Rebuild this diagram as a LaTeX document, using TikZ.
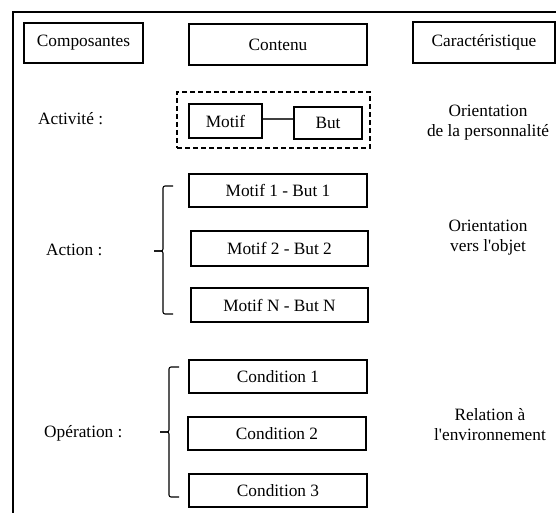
\documentclass[tikz,border=0pt]{standalone}
\usepackage{fontspec}
\setmainfont{Liberation Serif}
\begin{document}
\begin{tikzpicture}[x=1pt,y=-1pt,
  every node/.style={font=\fontsize{17.3}{20.5}\selectfont, inner sep=0pt},
  box/.style={draw, line width=1.3pt},
  lbl/.style={anchor=west},
  rtxt/.style={align=center},
  brace/.style={line width=1.1pt, rounded corners=2pt}]
\useasboundingbox (0,0) rectangle (556,513);
% outer frame (partly visible)
\draw[line width=1.3pt] (13,513) -- (13,12) -- (557,12);
% header
\node[box, minimum width=119pt, minimum height=40pt] (comp) at (83.5,43) {Composantes};
\node[box, minimum width=178pt, minimum height=41pt] (cont) at (278,44.5) {Contenu};
\node[box, minimum width=142pt, minimum height=41pt] (car) at (484,42.5) {Caractéristique};
% Activite
\node[lbl] (act) at (38,119) {Activité :};
\node[draw, dashed, dash pattern=on 5pt off 3pt, line width=1.2pt, minimum width=193pt, minimum height=56pt] (dbox) at (273.5,120) {};
\node[box, minimum width=73pt, minimum height=34pt] (motif) at (225.5,121) {Motif};
\node[box, minimum width=68pt, minimum height=32pt] (but) at (328,123) {But};
\draw[line width=1.6pt, black!75] (motif.east |- 0,119) -- (but.west |- 0,119);
\node[rtxt] (or1) at (488,122.5) {Orientation\\de la personnalité};
% Action
\node[lbl] (action) at (46,250) {Action :};
\node[box, minimum width=178pt, minimum height=33pt] (m1) at (278,190.5) {Motif 1 - But 1};
\node[box, minimum width=177pt, minimum height=35pt] (m2) at (279.5,248.5) {Motif 2 - But 2};
\node[box, minimum width=177pt, minimum height=34pt] (mn) at (279.5,305) {Motif N - But N};
\coordinate (b1t) at (173,186);
\coordinate (b1m) at (154,251);
\coordinate (b1b) at (173,314);
\draw[brace] (b1t) -- (163,186) -- (163,251) -- (b1m);
\draw[brace] (b1m) -- (163,251) -- (163,314) -- (b1b);
\node[rtxt] (or2) at (488,237.5) {Orientation\\vers l\textquotesingle objet};
% Operation
\node[lbl] (op) at (44,433) {Opération :};
\node[box, minimum width=178pt, minimum height=33pt] (c1) at (278,376.5) {Condition 1};
\node[box, minimum width=178pt, minimum height=33pt] (c2) at (277,433.5) {Condition 2};
\node[box, minimum width=178pt, minimum height=33pt] (c3) at (278,490.5) {Condition 3};
\coordinate (b2t) at (179,367);
\coordinate (b2m) at (160,432);
\coordinate (b2b) at (179,497);
\draw[brace] (b2t) -- (169,367) -- (169,432) -- (b2m);
\draw[brace] (b2m) -- (169,432) -- (169,497) -- (b2b);
\node[rtxt] (or3) at (490,424.5) {Relation à\\l\textquotesingle environnement};
\end{tikzpicture}
\end{document}
